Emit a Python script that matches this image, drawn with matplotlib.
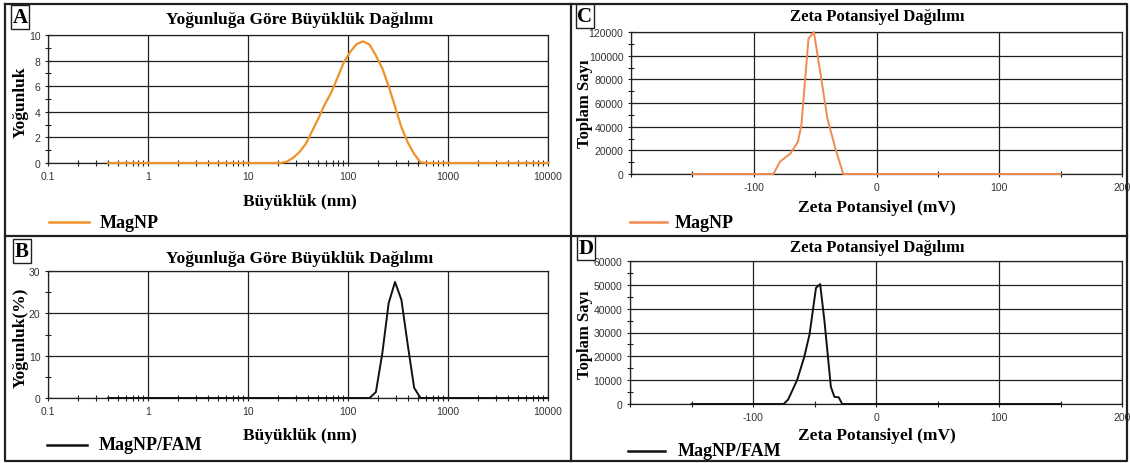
import matplotlib
matplotlib.use("Agg")
import matplotlib.pyplot as plt
from matplotlib.ticker import FixedLocator, NullFormatter, FixedFormatter
from matplotlib.lines import Line2D

# ---------------- data ----------------
size_A = [0.4, 1, 10, 21.04, 24.36, 28.21, 32.67, 37.84, 43.82, 50.75, 58.77, 68.06,
          78.82, 91.28, 105.7, 122.4, 141.8, 164.2, 190.1, 220.2, 255.0, 295.3,
          342.0, 396.1, 458.7, 531.2, 615.1, 1000, 10000]
int_A = [0, 0, 0, 0, 0.1, 0.4, 0.85, 1.5, 2.5, 3.5, 4.6, 5.5,
         6.7, 7.9, 8.7, 9.3, 9.5, 9.25, 8.4, 7.4, 6.0, 4.4,
         2.8, 1.6, 0.7, 0.05, 0, 0, 0]

size_B = [0.4, 1, 10, 100, 164.2, 190.1, 220.2, 255.0, 295.3, 342.0, 396.1,
          458.7, 531.2, 1000, 10000]
int_B = [0, 0, 0, 0, 0, 1.4, 10.5, 22.4, 27.4, 23.2, 12.5, 2.4, 0, 0, 0]

zeta_C = [-150, -84, -78.7, -70, -64, -61.2, -55.4, -51, -45.2, -40, -33.5, -27.1, 150]
count_C = [0, 0, 10400, 17400, 27300, 41300, 114400, 120000, 82000, 46900, 21600, 0, 0]

zeta_D = [-150, -75, -71.4, -64.2, -58.4, -54, -48.8, -45.4, -41.9, -36.7, -33.8,
          -30.3, -27.5, 150]
count_D = [0, 0, 1900, 9950, 19600, 29300, 48700, 50300, 34800, 7200, 3000,
           2800, 0, 0]

size_ticks = [0.1, 1, 10, 100, 1000, 10000]
size_labels = ["0.1", "1", "10", "100", "1000", "10000"]
zeta_ticks = [-200, -100, 0, 100, 200]
zeta_labels = ["", "-100", "0", "100", "200"]

title_size = "Yoğunluğa Göre Büyüklük Dağılımı"
title_zeta = "Zeta Potansiyel Dağılımı"
xlabel_size = "Büyüklük (nm)"
xlabel_zeta = "Zeta Potansiyel (mV)"

# ---------------- styling ----------------
W, H = 1130, 464
SERIF = "Liberation Serif"
SANS = "Liberation Sans"
ORANGE_A = "#F0922B"
ORANGE_C = "#F08A50"

fig = plt.figure(figsize=(W / 100, H / 100), dpi=100)
fig.patch.set_facecolor("white")


def ax_at(left, right, top, bottom):
    return fig.add_axes([left / W, 1 - bottom / H, (right - left) / W, (bottom - top) / H])


def px(x, y):
    return x / W, 1 - y / H


def style(ax):
    for s in ax.spines.values():
        s.set_color("#202020")
        s.set_linewidth(0.9)
    ax.tick_params(which="both", direction="inout", colors="#202020",
                   labelcolor="#333333", labelsize=7.5, width=0.8)
    ax.tick_params(which="major", length=5, pad=3)
    ax.tick_params(which="minor", length=4)
    for lab in ax.get_xticklabels() + ax.get_yticklabels():
        lab.set_fontfamily(SANS)
    ax.grid(True, which="major", color="#202020", linewidth=0.9)
    ax.set_axisbelow(True)


def size_axis(ax, ymax, ystep, yminor):
    ax.set_xscale("log")
    ax.set_xlim(0.1, 10000)
    ax.xaxis.set_major_locator(FixedLocator(size_ticks))
    ax.xaxis.set_major_formatter(FixedFormatter(size_labels))
    minors = [m * 10.0 ** e for e in range(-1, 4) for m in range(2, 10)]
    ax.xaxis.set_minor_locator(FixedLocator(minors))
    ax.xaxis.set_minor_formatter(NullFormatter())
    ax.set_ylim(0, ymax)
    ax.yaxis.set_major_locator(FixedLocator(list(range(0, ymax + 1, ystep))))
    ax.yaxis.set_minor_locator(FixedLocator(list(range(yminor, ymax, ystep))))
    style(ax)


def zeta_axis(ax, ymax, ystep):
    ax.set_xlim(-200, 200)
    ax.xaxis.set_major_locator(FixedLocator(zeta_ticks))
    ax.xaxis.set_major_formatter(FixedFormatter(zeta_labels))
    ax.xaxis.set_minor_locator(FixedLocator([-150, -50, 50, 150]))
    ax.set_ylim(0, ymax)
    ax.yaxis.set_major_locator(FixedLocator(list(range(0, ymax + 1, ystep))))
    ax.yaxis.set_minor_locator(FixedLocator(list(range(ystep // 2, ymax, ystep))))
    ax.yaxis.set_major_formatter(FixedFormatter([str(v) for v in range(0, ymax + 1, ystep)]))
    style(ax)


# ---------------- panels ----------------
line_kw = dict(clip_on=False, zorder=4)

axA = ax_at(48, 548, 36, 164)
axA.plot(size_A, int_A, color=ORANGE_A, lw=1.6, **line_kw)
size_axis(axA, 10, 2, 1)

axB = ax_at(48, 548, 272, 399)
axB.plot(size_B, int_B, color="#111111", lw=1.4, **line_kw)
size_axis(axB, 30, 10, 5)

axC = ax_at(631, 1122, 33, 175)
axC.plot(zeta_C, count_C, color=ORANGE_C, lw=1.4, **line_kw)
zeta_axis(axC, 120000, 20000)

axD = ax_at(630, 1122, 262, 405)
axD.plot(zeta_D, count_D, color="#111111", lw=1.4, **line_kw)
zeta_axis(axD, 60000, 10000)

# ---------------- texts ----------------
tkw = dict(fontfamily=SERIF, fontweight="bold", ha="center", va="center")
fig.text(*px(300, 20), title_size, fontsize=12.5, **tkw)
fig.text(*px(300, 259), title_size, fontsize=12.5, **tkw)
fig.text(*px(877, 17), title_zeta, fontsize=12, **tkw)
fig.text(*px(877, 248), title_zeta, fontsize=12, **tkw)

fig.text(*px(300, 202), xlabel_size, fontsize=12.5, **tkw)
fig.text(*px(300, 436), xlabel_size, fontsize=12.5, **tkw)
fig.text(*px(877, 208), xlabel_zeta, fontsize=12.5, **tkw)
fig.text(*px(877, 436), xlabel_zeta, fontsize=12.5, **tkw)

fig.text(*px(21, 102), "Yoğunluk", fontsize=12.5, rotation=90, **tkw)
fig.text(*px(21, 338), "Yoğunluk(%)", fontsize=12.5, rotation=90, **tkw)
fig.text(*px(585, 104), "Toplam Sayı", fontsize=12, rotation=90, **tkw)
fig.text(*px(585, 335), "Toplam Sayı", fontsize=12, rotation=90, **tkw)

# legends
lkw = dict(fontfamily=SERIF, fontweight="bold", ha="left", va="center", fontsize=13)
legends = [
    (49, 89, 223, 100, "MagNP", ORANGE_A),
    (630, 667, 223, 675, "MagNP", ORANGE_C),
    (47, 87, 446, 99, "MagNP/FAM", "#111111"),
    (628, 665, 452, 678, "MagNP/FAM", "#111111"),
]
for x0, x1, y, xt, txt, col in legends:
    fig.add_artist(Line2D([x0 / W, x1 / W], [1 - y / H, 1 - y / H], color=col, lw=1.8))
    fig.text(*px(xt, y), txt, **lkw)

# panel letters
for x, y, letter in [(20, 18, "A"), (22, 252, "B"), (585, 17, "C"), (586, 249, "D")]:
    fig.text(*px(x, y), letter, fontsize=15, fontfamily=SERIF, fontweight="bold",
             ha="center", va="center",
             bbox=dict(boxstyle="square,pad=0.08", facecolor="white",
                       edgecolor="#202020", linewidth=1.0))

# frame and dividers
frame = dict(color="#202020", lw=1.6)
fig.add_artist(Line2D([5 / W, 1127 / W, 1127 / W, 5 / W, 5 / W],
                      [1 - 5 / H, 1 - 5 / H, 1 - 462 / H, 1 - 462 / H, 1 - 5 / H], **frame))
fig.add_artist(Line2D([571 / W, 571 / W], [1 - 5 / H, 1 - 462 / H], **frame))
fig.add_artist(Line2D([5 / W, 1127 / W], [1 - 237 / H, 1 - 237 / H], **frame))

fig.savefig("out.png", dpi=100, facecolor="white")
